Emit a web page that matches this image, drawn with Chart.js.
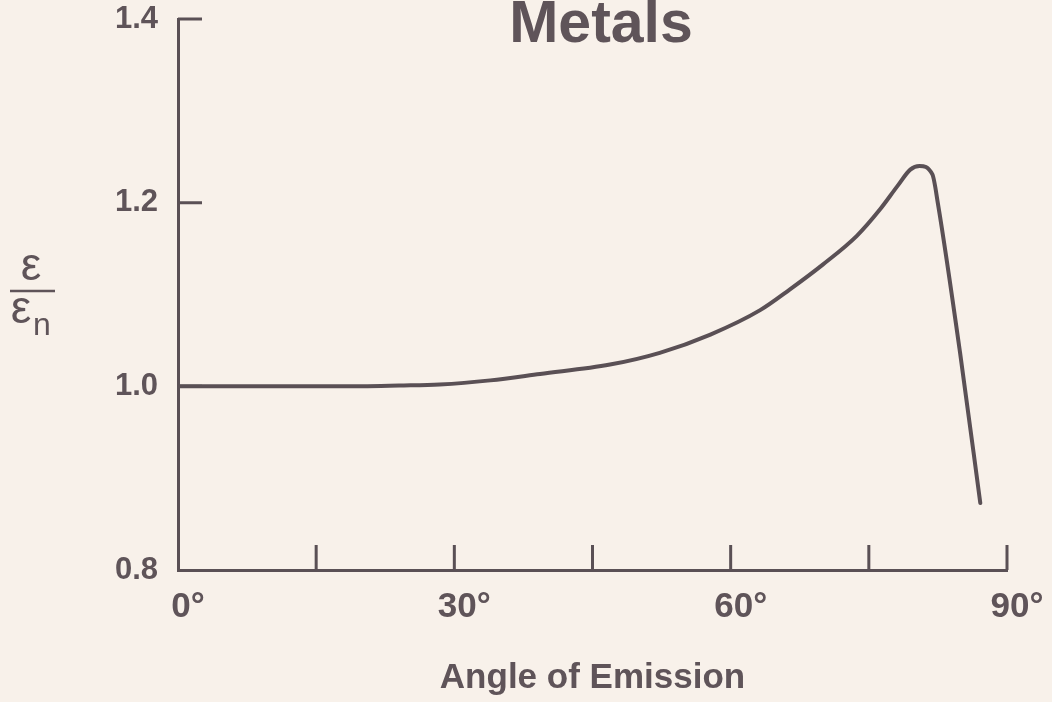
<!DOCTYPE html>
<html>
<head>
<meta charset="utf-8">
<script src="https://cdn.jsdelivr.net/npm/chart.js@4.4.1/dist/chart.umd.min.js"></script>
<style>
  html, body { margin: 0; padding: 0; background: #f8f1ea; }
  #wrap { width: 1052px; height: 702px; position: relative; }
</style>
</head>
<body>
<div id="wrap"><canvas id="metalsChart"></canvas></div>
<script>
// angle of emission (deg) and emissivity ratio e/en
const angulos = [0, 10, 20, 24, 28.4, 33.9, 39.3, 46.9, 52.3, 57.8, 63.2, 66.4, 70.0, 73.7, 76.2, 78.1, 79.5, 80.5, 81.9, 82.5, 84.9, 87.1];
const razon = [1.0, 1.0, 1.0, 1.0008, 1.002, 1.0065, 1.0135, 1.0237, 1.0365, 1.0564, 1.083, 1.1054, 1.1326, 1.1639, 1.1925, 1.218, 1.236, 1.240, 1.2307, 1.199, 1.037, 0.873];

const xTicks = [0, 15, 30, 45, 60, 75, 90];
const xTickLabels = ["0°", "", "30°", "", "60°", "", "90°"];
const yTicks = [0.8, 1.0, 1.2, 1.4];
const yTickLabels = ["0.8", "1.0", "1.2", "1.4"];

const titulo = "Metals";
const tituloX = "Angle of Emission";

const colorTinta = "#5f5459";
const colorLinea = "#5a5055";
const fuente = "'Liberation Sans', Arial, sans-serif";

// inward tick marks, title and the e/en fraction label
const decoracion = {
  id: "decoracion",
  afterDraw(chart) {
    const { ctx } = chart;
    const x = chart.scales.x;
    const y = chart.scales.y;

    ctx.save();
    ctx.strokeStyle = colorLinea;
    ctx.lineWidth = 3;
    ctx.beginPath();
    yTicks.forEach(v => {
      if (v === y.min) return;
      const py = y.getPixelForValue(v);
      ctx.moveTo(x.left, py);
      ctx.lineTo(x.left + 24, py);
    });
    xTicks.forEach(v => {
      if (v === x.min) return;
      const px = x.getPixelForValue(v);
      ctx.moveTo(px, y.bottom);
      ctx.lineTo(px, y.bottom - 25);
    });
    ctx.stroke();

    ctx.fillStyle = colorTinta;
    ctx.font = `bold 59px ${fuente}`;
    ctx.textAlign = "center";
    ctx.textBaseline = "alphabetic";
    ctx.fillText(titulo, 601, 42);

    ctx.font = `46px ${fuente}`;
    ctx.fillText("ε", 31, 280);
    ctx.fillText("ε", 21, 323);
    ctx.font = `32px ${fuente}`;
    ctx.textAlign = "left";
    ctx.fillText("n", 33, 335);

    ctx.lineWidth = 2.5;
    ctx.strokeStyle = colorTinta;
    ctx.beginPath();
    ctx.moveTo(10, 291);
    ctx.lineTo(55, 291);
    ctx.stroke();
    ctx.restore();
  }
};

function crearChart(canvasId) {
  const canvas = document.getElementById(canvasId);
  if (!canvas) return;

  new Chart(canvas, {
    type: "line",
    data: {
      datasets: [{
        label: titulo,
        data: angulos.map((a, i) => ({ x: a, y: razon[i] })),
        borderColor: colorLinea,
        borderWidth: 4,
        borderCapStyle: "round",
        borderJoinStyle: "round",
        pointRadius: 0,
        cubicInterpolationMode: "monotone",
        fill: false
      }]
    },
    options: {
      responsive: true,
      maintainAspectRatio: false,
      animation: false,
      layout: {
        padding: { top: 19, right: 45, bottom: 0, left: 0 }
      },
      plugins: {
        legend: { display: false },
        tooltip: { enabled: false }
      },
      scales: {
        x: {
          type: "linear",
          min: 0,
          max: 90,
          afterBuildTicks: scale => {
            scale.ticks = xTicks.map(v => ({ value: v }));
          },
          afterFit: scale => {
            scale.height = 132;
          },
          grid: { display: false, drawTicks: false },
          border: { display: true, color: colorLinea, width: 3 },
          ticks: {
            autoSkip: false,
            maxRotation: 0,
            padding: 16,
            labelOffset: 10,
            color: colorTinta,
            font: { family: fuente, size: 35, weight: "bold" },
            callback: value => xTickLabels[xTicks.indexOf(value)] ?? ""
          },
          title: {
            display: true,
            text: tituloX,
            color: colorTinta,
            font: { family: fuente, size: 35, weight: "bold" },
            padding: { top: 0, bottom: 3 }
          }
        },
        y: {
          min: 0.8,
          max: 1.4,
          afterBuildTicks: scale => {
            scale.ticks = yTicks.map(v => ({ value: v }));
          },
          afterFit: scale => {
            scale.width = 178;
            scale.paddingTop = 0;
            scale.paddingBottom = 0;
          },
          grid: { display: false, drawTicks: false },
          border: { display: true, color: colorLinea, width: 3 },
          ticks: {
            padding: 20,
            color: colorTinta,
            font: { family: fuente, size: 31, weight: "bold" },
            callback: value => yTickLabels[yTicks.indexOf(value)] ?? ""
          }
        }
      }
    },
    plugins: [decoracion]
  });
}

document.addEventListener("DOMContentLoaded", () => crearChart("metalsChart"));
</script>
</body>
</html>
